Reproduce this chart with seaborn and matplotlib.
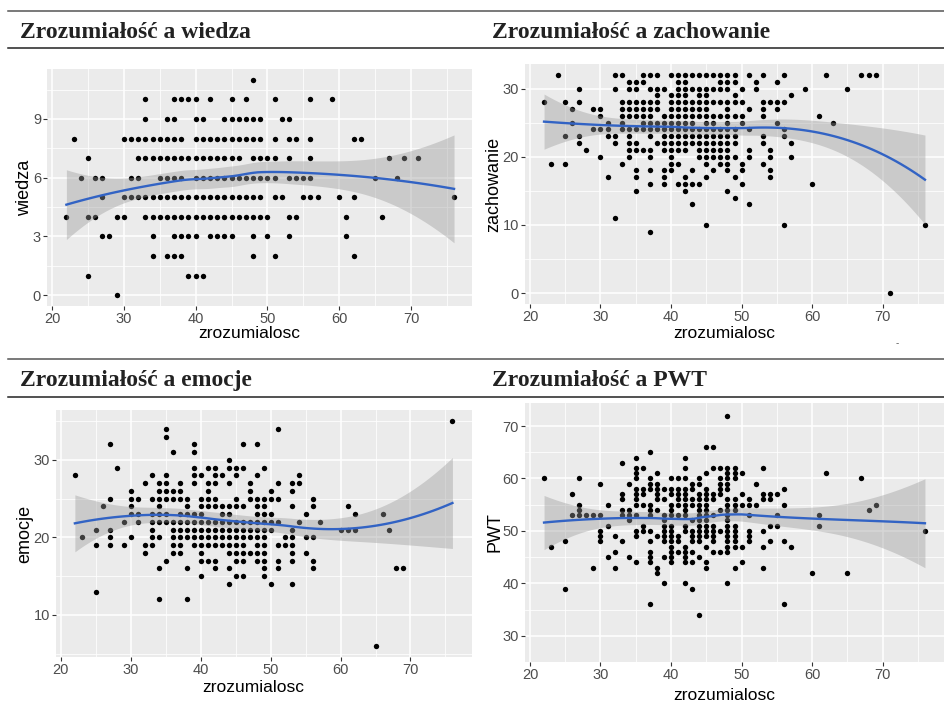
import numpy as np
import matplotlib
matplotlib.use("Agg")
import matplotlib.pyplot as plt
from matplotlib.lines import Line2D
from matplotlib.ticker import MultipleLocator
import seaborn as sns

W, H = 944, 702

# Zrozumiałość a wiedza: for each wiedza value, the zrozumialosc values seen
wiedza_rows = [
    (11, [48]),
    (10, [33, 37, 38, 39, 40, 42, 45, 47, 51, 56, 59]),
    (9, [33, 36, 37, 40, 41, 44, 45, 46, 47, 48, 49, 52, 53]),
    (8, [23, 30, 31, 32, 33, 34, 35, 36, 37, 38, 40, 41, 42, 43, 44, 45, 46, 47, 48, 49,
         51, 53, 54, 56, 62, 63]),
    (7, [25, 32, 33, 34, 35, 36, 37, 38, 39, 40, 41, 42, 43, 44, 45, 46, 48, 49, 50, 51,
         53, 56, 67, 69, 71]),
    (6, [24, 26, 27, 31, 32, 35, 36, 37, 38, 40, 41, 42, 43, 44, 45, 46, 47, 48, 49, 50,
         51, 53, 54, 55, 56, 65, 68]),
    (5, [27, 30, 31, 32, 33, 34, 35, 36, 37, 38, 39, 40, 41, 42, 43, 44, 45, 46, 47, 48,
         49, 51, 52, 55, 56, 57, 60, 62, 76]),
    (4, [22, 25, 26, 29, 30, 33, 34, 35, 36, 37, 38, 39, 40, 41, 42, 43, 44, 45, 46, 47,
         48, 49, 50, 53, 54, 61, 66]),
    (3, [27, 28, 34, 37, 38, 39, 40, 42, 43, 44, 45, 48, 50, 53, 61]),
    (2, [34, 36, 37, 38, 48, 51, 62]),
    (1, [25, 39, 40, 41]),
    (0, [29]),
]

# Zrozumiałość a zachowanie: for each zrozumialosc value, the zachowanie values
zachowanie_cols = [
    (22, [28]), (23, [19]), (24, [32]), (25, [28, 23, 19]), (26, [27, 25]),
    (27, [30, 28, 23, 22]), (28, [21]), (29, [27, 24]), (30, [27, 26, 24, 20]),
    (31, [25, 24, 23, 17]), (32, [32, 30, 23, 22, 11]), (33, [32, 28, 27, 26, 25, 24, 19]),
    (34, [31, 30, 28, 27, 26, 24, 23, 22, 21, 20]),
    (35, [31, 30, 28, 27, 26, 24, 22, 21, 18, 17, 15]),
    (36, [32, 31, 28, 27, 26, 25, 24, 21]),
    (37, [32, 30, 28, 27, 26, 25, 24, 23, 21, 20, 18, 16, 9]),
    (38, [32, 30, 29, 28, 27, 25, 24, 22]),
    (39, [30, 26, 25, 24, 23, 22, 21, 18, 17, 16]),
    (40, [32, 29, 28, 27, 26, 25, 24, 23, 22, 21, 20, 19, 18]),
    (41, [32, 31, 30, 29, 28, 27, 26, 25, 24, 23, 22, 21, 19, 16]),
    (42, [32, 31, 30, 29, 28, 27, 26, 25, 24, 23, 22, 21, 17, 16, 15]),
    (43, [32, 30, 28, 27, 26, 25, 24, 23, 22, 18, 16, 13]),
    (44, [32, 30, 29, 28, 27, 26, 24, 23, 22, 21, 20, 16]),
    (45, [32, 30, 29, 28, 27, 26, 25, 24, 23, 22, 21, 20, 19, 17, 10]),
    (46, [32, 30, 28, 26, 25, 24, 23, 22, 21, 20, 18]),
    (47, [32, 31, 30, 28, 26, 24, 23, 22, 21, 20, 19]),
    (48, [32, 31, 30, 28, 27, 26, 25, 24, 23, 22, 21, 20, 19, 18, 15]),
    (49, [32, 31, 29, 28, 26, 24, 23, 22, 20, 17, 14]),
    (50, [30, 28, 26, 25, 19, 18, 16]), (51, [32, 27, 24, 21, 20, 13]), (52, [31, 30]),
    (53, [32, 28, 27, 26, 23, 22, 19]), (54, [28, 21, 20, 18, 17]), (55, [31, 28, 27, 25]),
    (56, [32, 28, 24, 23, 10]), (57, [29, 22, 20]), (59, [30]), (60, [16]), (61, [26]),
    (62, [32]), (63, [25]), (65, [30]), (67, [32]), (68, [32]), (69, [32]), (71, [0]),
    (76, [10]),
]

# Zrozumiałość a emocje
emocje_cols = [
    (22, [28]), (23, [20]), (25, [21, 19, 13]), (26, [24]), (27, [32, 25, 21, 20, 19]),
    (28, [29]), (29, [22, 19]), (30, [26, 25, 24, 23, 20]), (31, [25, 23, 22]),
    (32, [27, 19, 18]), (33, [28, 25, 23, 22, 21, 20, 19]),
    (34, [27, 26, 25, 24, 23, 22, 20, 16, 12]),
    (35, [34, 33, 28, 27, 26, 25, 23, 22, 17]),
    (36, [31, 26, 25, 22, 21, 20, 19, 18]),
    (37, [27, 26, 25, 23, 22, 21, 20, 19, 18]),
    (38, [25, 24, 23, 22, 21, 20, 16, 12]),
    (39, [32, 31, 29, 28, 27, 23, 22, 21, 20, 19]),
    (40, [28, 25, 24, 23, 22, 21, 20, 19, 18, 17, 15]),
    (41, [29, 27, 26, 25, 24, 22, 21, 20, 19, 17]),
    (42, [29, 28, 27, 25, 24, 22, 21, 20, 19, 17, 16]),
    (43, [28, 24, 23, 22, 21, 20, 19]),
    (44, [30, 29, 27, 24, 23, 22, 21, 20, 19, 18, 16, 14]),
    (45, [29, 28, 25, 24, 22, 21, 20, 19, 18, 17, 15]),
    (46, [32, 29, 24, 22, 21, 20, 19, 18, 17, 15]),
    (47, [27, 26, 25, 22, 21, 20, 18]),
    (48, [32, 28, 25, 24, 23, 22, 21, 20, 19, 18, 17]),
    (49, [29, 25, 24, 23, 22, 21, 20, 19, 18, 17, 16, 15]),
    (50, [26, 25, 23, 22, 21, 14]), (51, [34, 27, 25, 22, 19, 17, 16]), (52, [20, 19]),
    (53, [27, 26, 24, 21, 20, 19, 18, 17, 14]), (54, [28, 27, 22]), (55, [23, 20, 18]),
    (56, [25, 24, 20, 17, 16]), (57, [22]), (60, [21]), (61, [24, 21]), (62, [23, 21]),
    (65, [6]), (66, [23]), (67, [21]), (68, [16]), (69, [16]), (76, [35]),
]

# Zrozumiałość a PWT
pwt_cols = [
    (22, [60]), (23, [47]), (25, [48, 39]), (26, [57, 53]), (27, [60, 55, 54, 53]),
    (28, [53]), (29, [53, 43]), (30, [59, 53, 50, 49, 48]), (31, [55, 51, 45]),
    (32, [49, 46, 43]), (33, [63, 57, 56, 54, 53, 48]), (34, [59, 54, 53, 52, 45]),
    (35, [64, 62, 61, 60, 58, 57, 56, 55, 53, 50, 49, 44]),
    (36, [62, 58, 57, 55, 51, 50]),
    (37, [65, 60, 59, 58, 55, 54, 53, 50, 48, 46, 45, 44, 36]),
    (38, [61, 59, 58, 57, 56, 54, 49, 43, 42]),
    (39, [58, 56, 53, 52, 51, 50, 49, 48, 45, 40]),
    (40, [60, 58, 57, 55, 54, 53, 51, 50, 49, 48, 47, 46, 45, 44]),
    (41, [60, 58, 57, 56, 55, 53, 49, 48, 46]),
    (42, [64, 62, 60, 58, 57, 56, 55, 54, 53, 51, 50, 47, 46, 45, 44, 40]),
    (43, [59, 58, 56, 55, 52, 50, 49, 48, 46, 44, 39]),
    (44, [60, 59, 57, 56, 55, 54, 53, 52, 51, 50, 49, 48, 45, 34]),
    (45, [66, 61, 58, 57, 56, 55, 54, 53, 52, 51, 50, 49, 47, 44, 43]),
    (46, [66, 62, 57, 56, 53, 51, 50, 49, 48, 46]),
    (47, [62, 60, 59, 58, 57, 54, 50, 46]),
    (48, [72, 62, 61, 60, 59, 58, 56, 55, 54, 53, 52, 51, 50, 49, 48, 47, 46, 40]),
    (49, [62, 61, 60, 56, 55, 54, 51, 50, 49, 48, 47, 43]),
    (50, [61, 57, 55, 47, 44]), (51, [56, 55, 53, 50, 49, 48]), (52, [59, 55]),
    (53, [62, 57, 56, 50, 47, 43]), (54, [57, 56, 51, 48]), (55, [57, 53, 51]),
    (56, [58, 55, 48, 36]), (57, [47]), (60, [42]), (61, [53, 51]), (62, [61]),
    (65, [42]), (67, [60]), (68, [54]), (69, [55]), (76, [50]),
]

titles = ["Zrozumiałość a wiedza", "Zrozumiałość a zachowanie",
          "Zrozumiałość a emocje", "Zrozumiałość a PWT"]
y_names = ["wiedza", "zachowanie", "emocje", "PWT"]
x_name = "zrozumialosc"
x_ticks = [20, 30, 40, 50, 60, 70]

PANEL_BG = "#EBEBEB"
LINE_COL = "#3263C4"
SPAN = 0.9


def from_rows(rows):
    xs, ys = [], []
    for yv, xlist in rows:
        xs += xlist
        ys += [yv] * len(xlist)
    return np.array(xs, float), np.array(ys, float)


def from_cols(cols):
    xs, ys = [], []
    for xv, ylist in cols:
        xs += [xv] * len(ylist)
        ys += ylist
    return np.array(xs, float), np.array(ys, float)


def loess(x, y, grid, span=SPAN, cell=0.2):
    # R-style loess: local quadratic fits at kd-tree vertices,
    # cubic Hermite interpolation in between
    n = len(x)
    q = int(np.floor(n * span))

    def local(x0):
        d = np.abs(x - x0)
        dmax = np.sort(d)[q - 1]
        u = np.clip(d / dmax, 0, 1)
        w = (1 - u ** 3) ** 3
        X = np.column_stack([np.ones(n), x - x0, (x - x0) ** 2])
        XtW = X.T * w
        A = np.linalg.solve(XtW @ X, XtW)
        return A[0], A[1]

    lo, hi = x.min(), x.max()
    mu = 0.005 * (hi - lo)
    fc = int(np.floor(n * span * cell))
    verts = {lo - mu, hi + mu}

    def split(xs):
        if len(xs) <= fc:
            return
        m = (len(xs) + 1) // 2 - 1
        v = (xs[m] + xs[m + 1]) / 2
        low, high = xs[xs < v], xs[xs >= v]
        if len(low) == 0 or len(high) == 0:
            return
        verts.add(v)
        split(low)
        split(high)

    split(np.sort(x))
    vs = np.array(sorted(verts))
    rows = [local(v) for v in vs]
    V0 = np.array([r[0] for r in rows])
    V1 = np.array([r[1] for r in rows])

    def op(t):
        k = np.clip(np.searchsorted(vs, t) - 1, 0, len(vs) - 2)
        a, b = vs[k], vs[k + 1]
        h = b - a
        s = (t - a) / h
        h00 = 2 * s ** 3 - 3 * s ** 2 + 1
        h10 = s ** 3 - 2 * s ** 2 + s
        h01 = -2 * s ** 3 + 3 * s ** 2
        h11 = s ** 3 - s ** 2
        return h00 * V0[k] + h10 * h * V1[k] + h01 * V0[k + 1] + h11 * h * V1[k + 1]

    L = np.array([op(v) for v in x])
    res = y - L @ y
    M = np.eye(n) - L
    MM = M.T @ M
    one = np.trace(MM)
    two = np.trace(MM @ MM)
    s = np.sqrt(np.sum(res ** 2) / one)
    df = one ** 2 / two
    Lg = np.array([op(v) for v in grid])
    fit = Lg @ y
    se = s * np.sqrt(np.sum(Lg ** 2, axis=1))
    t = 1.96 + 2.4 / df
    return fit, fit - t * se, fit + t * se


def px_axes(fig, left, top, right, bottom):
    return fig.add_axes([left / W, 1 - bottom / H, (right - left) / W, (bottom - top) / H])


def draw_panel(ax, x, y, xlim, ylim, yticks, yminor):
    ax.set_facecolor(PANEL_BG)
    for s in ax.spines.values():
        s.set_visible(False)
    sns.scatterplot(x=x, y=y, color="black", s=15, linewidth=0, ax=ax, zorder=2)
    grid = np.linspace(x.min(), x.max(), 80)
    fit, lo, hi = loess(x, y, grid)
    ax.fill_between(grid, lo, hi, color="#999999", alpha=0.4, linewidth=0, zorder=3)
    sns.lineplot(x=grid, y=fit, color=LINE_COL, linewidth=1.7, ax=ax, zorder=4)
    ax.set_xlim(xlim)
    ax.set_ylim(ylim)
    ax.set_xticks(x_ticks)
    ax.set_yticks(yticks)
    ax.xaxis.set_minor_locator(MultipleLocator(5))
    ax.yaxis.set_minor_locator(MultipleLocator(yminor))
    ax.set_axisbelow(True)
    ax.grid(which="major", color="white", linewidth=1.1)
    ax.grid(which="minor", color="white", linewidth=0.55)
    ax.tick_params(which="major", length=2.8, width=0.8, color="#333333",
                   labelcolor="#4D4D4D", labelsize=10.5, pad=1.5)
    ax.tick_params(which="minor", length=0)
    ax.set_xlabel("")
    ax.set_ylabel("")


plt.rcParams["font.family"] = ["Liberation Sans", "DejaVu Sans"]
fig = plt.figure(figsize=(W / 100, H / 100), dpi=100)
fig.patch.set_facecolor("white")

x1, y1 = from_rows(wiedza_rows)
x2, y2 = from_cols(zachowanie_cols)
x3, y3 = from_cols(emocje_cols)
x4, y4 = from_cols(pwt_cols)

panels = [
    # data, axes box (px), xlim, ylim, yticks, minor step
    (x1, y1, (47, 69, 472, 306), (19.3, 78.5), (-0.55, 11.55), [0, 3, 6, 9], 1.5),
    (x2, y2, (525, 64, 944, 304), (19.3, 78.7), (-1.6, 33.6), [0, 10, 20, 30], 5),
    (x3, y3, (56, 410, 472, 657), (19.3, 78.8), (4.55, 36.45), [10, 20, 30], 5),
    (x4, y4, (525, 403, 944, 662), (19.3, 78.7), (25.0, 74.4), [30, 40, 50, 60, 70], 5),
]

ylab_x = [25, 494, 25, 495]
xlab_y = [333, 333, 688, 695]
title_x = [20, 492, 20, 492]
title_base = [37.5, 37.5, 386, 386]

for i, (x, y, box, xl, yl, yt, ym) in enumerate(panels):
    ax = px_axes(fig, *box)
    draw_panel(ax, x, y, xl, yl, yt, ym)
    left, top, right, bottom = box
    # x position of the centre of the visible x range
    cx = left + (right - left) * ((47.5 - xl[0]) / (xl[1] - xl[0]))
    fig.text(cx / W, 1 - xlab_y[i] / H, x_name, ha="center", va="center", fontsize=12.5,
             color="black")
    fig.text(ylab_x[i] / W, 1 - (top + bottom) / 2 / H, y_names[i], rotation=90,
             ha="center", va="center", fontsize=13, color="black")
    fig.text(title_x[i] / W, 1 - title_base[i] / H, titles[i], ha="left", va="baseline",
             fontsize=17, fontweight="bold", family=["Liberation Serif", "DejaVu Serif"],
             color="#222222")

# table rules round the headers
for yy, col in [(11, "#555555"), (47.5, "#222222"), (359, "#555555"), (397, "#222222")]:
    fig.add_artist(Line2D([8 / W, 1], [1 - yy / H, 1 - yy / H], color=col, linewidth=1.1))

fig.text(897 / W, 1 - 343 / H, "-", ha="center", va="center", fontsize=7, color="#555555")

fig.savefig("out.png", dpi=100)
